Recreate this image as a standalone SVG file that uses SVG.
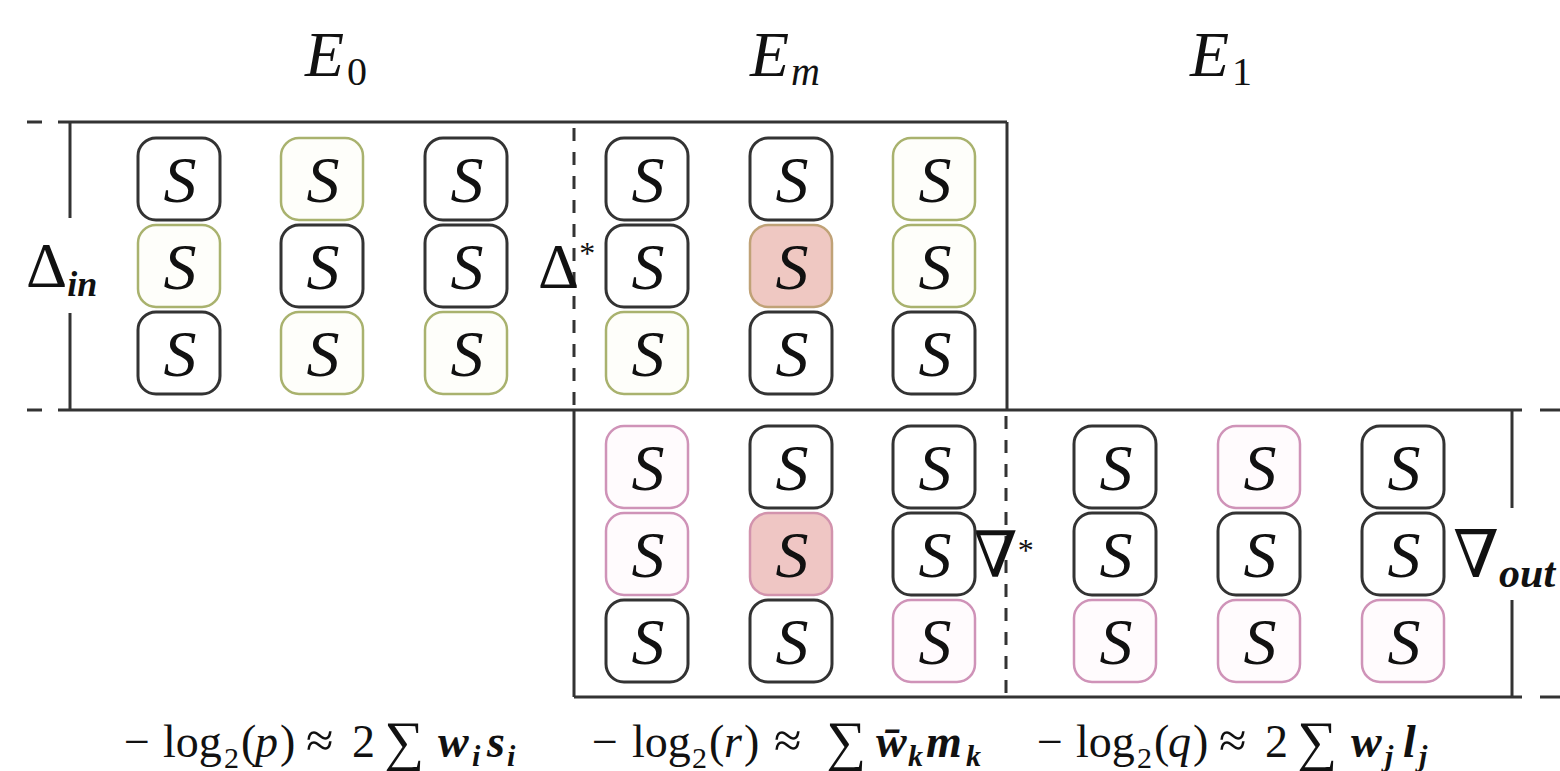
<svg xmlns="http://www.w3.org/2000/svg" width="1560" height="771" viewBox="0 0 1560 771">
<style>
.ln{stroke:#333;stroke-width:3;fill:none}
.dash{stroke:#333;stroke-width:3;fill:none;stroke-dasharray:13 11}
.nb{fill:#fff;stroke:#333;stroke-width:3}
.ng{fill:#fefefa;stroke:#a9b26e;stroke-width:2.5}
.np{fill:#fffbfd;stroke:#cf93b8;stroke-width:2.5}
.nfo{fill:#efc8c2;stroke:#c0a277;stroke-width:2.5}
.nfp{fill:#efc6c4;stroke:#d293ad;stroke-width:2.5}
.s{font-family:"Liberation Serif","DejaVu Serif",serif;font-style:italic;font-size:66px;fill:#111;text-anchor:middle}
.t{font-family:"Liberation Serif","DejaVu Serif",serif;fill:#111}
.it{font-style:italic}
.f{font-family:"Liberation Serif","DejaVu Serif",serif;font-size:46px;fill:#111}
.fs{font-size:30px}
.bi{font-style:italic;font-weight:bold}
</style>
<rect width="1560" height="771" fill="#fff"/>
<defs>
<rect id="bx" width="82" height="82" rx="18"/>
</defs>
<g id="connectors">
<line class="ln" x1="27" y1="122" x2="42" y2="122"/>
<line class="ln" x1="58" y1="122" x2="1007" y2="122"/>
<line class="ln" x1="27" y1="410" x2="42" y2="410"/>
<line class="ln" x1="58" y1="410" x2="1522" y2="410"/>
<line class="ln" x1="1540" y1="410" x2="1560" y2="410"/>
<line class="ln" x1="574" y1="697" x2="1522" y2="697"/>
<line class="ln" x1="1540" y1="697" x2="1560" y2="697"/>
<line class="ln" x1="70" y1="122" x2="70" y2="218"/>
<line class="ln" x1="70" y1="313" x2="70" y2="410"/>
<line class="ln" x1="1007" y1="122" x2="1007" y2="410"/>
<line class="ln" x1="574" y1="410" x2="574" y2="697"/>
<line class="dash" x1="574" y1="128" x2="574" y2="410"/>
<line class="dash" x1="1006" y1="416" x2="1006" y2="697"/>
<line class="ln" x1="1512" y1="410" x2="1512" y2="508"/>
<line class="ln" x1="1512" y1="600" x2="1512" y2="697"/>
</g>
<g id="titles">
<text class="t it" x="305" y="76" font-size="64">E<tspan font-style="normal" font-size="40" dy="9" dx="3">0</tspan></text>
<text class="t it" x="750" y="76" font-size="64">E<tspan font-size="40" dy="9" dx="2">m</tspan></text>
<text class="t it" x="1190" y="76" font-size="64">E<tspan font-style="normal" font-size="40" dy="9" dx="3">1</tspan></text>
</g>
<g id="labels">
<text class="t" x="26" y="287" font-size="64">Δ<tspan class="bi" font-size="36" dy="9">in</tspan></text>
<text class="t" x="538" y="288" font-size="64">Δ<tspan font-size="32" dy="-24">*</tspan></text>
<text class="t" x="973" y="577" font-size="64">∇<tspan font-size="32" dy="-16">*</tspan></text>
<text class="t" x="1453" y="577" font-size="66">∇<tspan class="bi" font-size="42" dy="10">out</tspan></text>
</g>
<g id="n-top">
<g id="n1"><use href="#bx" class="nb" x="138" y="138"/><text class="s" x="180" y="202">S</text></g>
<g id="n2"><use href="#bx" class="ng" x="138" y="225"/><text class="s" x="180" y="289">S</text></g>
<g id="n3"><use href="#bx" class="nb" x="138" y="312"/><text class="s" x="180" y="376">S</text></g>
<g id="n4"><use href="#bx" class="ng" x="281" y="138"/><text class="s" x="323" y="202">S</text></g>
<g id="n5"><use href="#bx" class="nb" x="281" y="225"/><text class="s" x="323" y="289">S</text></g>
<g id="n6"><use href="#bx" class="ng" x="281" y="312"/><text class="s" x="323" y="376">S</text></g>
<g id="n7"><use href="#bx" class="nb" x="425" y="138"/><text class="s" x="467" y="202">S</text></g>
<g id="n8"><use href="#bx" class="nb" x="425" y="225"/><text class="s" x="467" y="289">S</text></g>
<g id="n9"><use href="#bx" class="ng" x="425" y="312"/><text class="s" x="467" y="376">S</text></g>
<g id="n10"><use href="#bx" class="nb" x="606" y="138"/><text class="s" x="648" y="202">S</text></g>
<g id="n11"><use href="#bx" class="nb" x="606" y="225"/><text class="s" x="648" y="289">S</text></g>
<g id="n12"><use href="#bx" class="ng" x="606" y="312"/><text class="s" x="648" y="376">S</text></g>
<g id="n13"><use href="#bx" class="nb" x="750" y="138"/><text class="s" x="792" y="202">S</text></g>
<g id="n14"><use href="#bx" class="nfo" x="750" y="225"/><text class="s" x="792" y="289">S</text></g>
<g id="n15"><use href="#bx" class="nb" x="750" y="312"/><text class="s" x="792" y="376">S</text></g>
<g id="n16"><use href="#bx" class="ng" x="893" y="138"/><text class="s" x="935" y="202">S</text></g>
<g id="n17"><use href="#bx" class="ng" x="893" y="225"/><text class="s" x="935" y="289">S</text></g>
<g id="n18"><use href="#bx" class="nb" x="893" y="312"/><text class="s" x="935" y="376">S</text></g>
</g>
<g id="n-bottom">
<g id="n19"><use href="#bx" class="np" x="606" y="426"/><text class="s" x="648" y="490">S</text></g>
<g id="n20"><use href="#bx" class="np" x="606" y="513"/><text class="s" x="648" y="577">S</text></g>
<g id="n21"><use href="#bx" class="nb" x="606" y="600"/><text class="s" x="648" y="664">S</text></g>
<g id="n22"><use href="#bx" class="nb" x="750" y="426"/><text class="s" x="792" y="490">S</text></g>
<g id="n23"><use href="#bx" class="nfp" x="750" y="513"/><text class="s" x="792" y="577">S</text></g>
<g id="n24"><use href="#bx" class="nb" x="750" y="600"/><text class="s" x="792" y="664">S</text></g>
<g id="n25"><use href="#bx" class="nb" x="893" y="426"/><text class="s" x="935" y="490">S</text></g>
<g id="n26"><use href="#bx" class="nb" x="893" y="513"/><text class="s" x="935" y="577">S</text></g>
<g id="n27"><use href="#bx" class="np" x="893" y="600"/><text class="s" x="935" y="664">S</text></g>
<g id="n28"><use href="#bx" class="nb" x="1074" y="426"/><text class="s" x="1116" y="490">S</text></g>
<g id="n29"><use href="#bx" class="nb" x="1074" y="513"/><text class="s" x="1116" y="577">S</text></g>
<g id="n30"><use href="#bx" class="np" x="1074" y="600"/><text class="s" x="1116" y="664">S</text></g>
<g id="n31"><use href="#bx" class="np" x="1218" y="426"/><text class="s" x="1260" y="490">S</text></g>
<g id="n32"><use href="#bx" class="nb" x="1218" y="513"/><text class="s" x="1260" y="577">S</text></g>
<g id="n33"><use href="#bx" class="np" x="1218" y="600"/><text class="s" x="1260" y="664">S</text></g>
<g id="n34"><use href="#bx" class="nb" x="1362" y="426"/><text class="s" x="1404" y="490">S</text></g>
<g id="n35"><use href="#bx" class="nb" x="1362" y="513"/><text class="s" x="1404" y="577">S</text></g>
<g id="n36"><use href="#bx" class="np" x="1362" y="600"/><text class="s" x="1404" y="664">S</text></g>
</g>
<g id="formulas">
<g transform="translate(122,757)">
<text class="f"><tspan x="2" y="0">−</tspan><tspan x="41" y="0">log</tspan><tspan class="fs" x="102" y="11">2</tspan><tspan x="119" y="0">(</tspan><tspan class="it" x="133" y="0">p</tspan><tspan x="158" y="0">)</tspan><tspan x="184" y="0" font-size="50">≈</tspan><tspan x="230" y="0">2</tspan><tspan x="262" y="3" font-size="56">∑</tspan><tspan class="bi" x="316" y="0">w</tspan><tspan class="bi fs" x="350" y="9">i</tspan><tspan class="bi" x="365" y="0">s</tspan><tspan class="bi fs" x="385" y="9">i</tspan></text>
</g>
<g transform="translate(590,757)">
<text class="f"><tspan x="2" y="0">−</tspan><tspan x="42" y="0">log</tspan><tspan class="fs" x="102" y="11">2</tspan><tspan x="119" y="0">(</tspan><tspan class="it" x="134" y="0">r</tspan><tspan x="154" y="0">)</tspan><tspan x="184" y="0" font-size="50">≈</tspan><tspan x="236" y="3" font-size="56">∑</tspan><tspan class="bi" x="286" y="0">w̄</tspan><tspan class="bi fs" x="318" y="9">k</tspan><tspan class="bi" x="336" y="0">m</tspan><tspan class="bi fs" x="376" y="9">k</tspan></text>
</g>
<g transform="translate(1035,757)">
<text class="f"><tspan x="2" y="0">−</tspan><tspan x="41" y="0">log</tspan><tspan class="fs" x="102" y="11">2</tspan><tspan x="119" y="0">(</tspan><tspan class="it" x="133" y="0">q</tspan><tspan x="158" y="0">)</tspan><tspan x="184" y="0" font-size="50">≈</tspan><tspan x="230" y="0">2</tspan><tspan x="262" y="3" font-size="56">∑</tspan><tspan class="bi" x="316" y="0">w</tspan><tspan class="bi fs" x="350" y="9">j</tspan><tspan class="bi" x="368" y="0">l</tspan><tspan class="bi fs" x="384" y="9">j</tspan></text>
</g>
</g>
</svg>
